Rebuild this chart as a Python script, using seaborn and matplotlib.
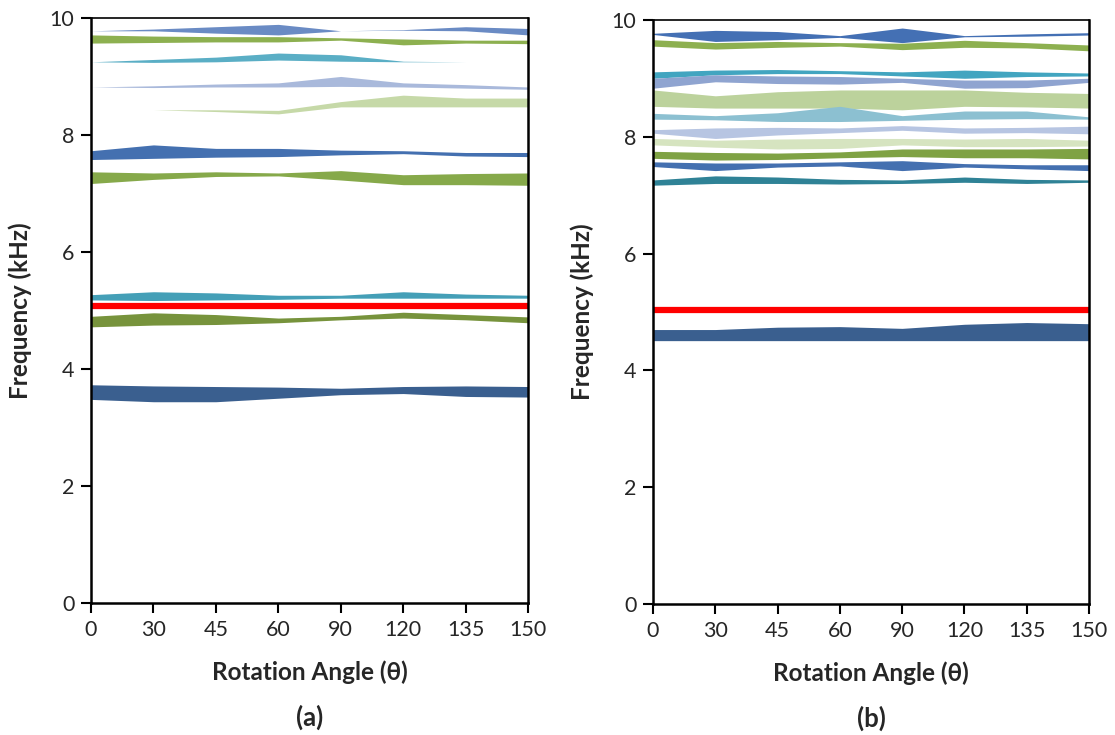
import numpy as np
import pandas as pd
import matplotlib
matplotlib.use("Agg")
import matplotlib.pyplot as plt
import seaborn as sns

angles = ["0", "30", "45", "60", "90", "120", "135", "150"]

# ---- panel (a): band lower / upper bounds (kHz) ----
a1_lo = [9.78, 9.78, 9.74, 9.71, 9.78, 9.79, 9.78, 9.71]
a1_hi = [9.78, 9.81, 9.85, 9.89, 9.78, 9.80, 9.85, 9.82]
a2_lo = [9.57, 9.58, 9.59, 9.59, 9.62, 9.54, 9.57, 9.56]
a2_hi = [9.71, 9.69, 9.68, 9.68, 9.66, 9.64, 9.62, 9.62]
a3_lo = [9.25, 9.24, 9.25, 9.28, 9.26, 9.25, 9.25, 9.25]
a3_hi = [9.25, 9.29, 9.33, 9.40, 9.37, 9.26, 9.25, 9.25]
a4_lo = [8.82, 8.81, 8.82, 8.82, 8.83, 8.82, 8.80, 8.78]
a4_hi = [8.82, 8.84, 8.87, 8.89, 9.00, 8.89, 8.86, 8.82]
a5_lo = [8.43, 8.43, 8.40, 8.36, 8.48, 8.48, 8.48, 8.48]
a5_hi = [8.43, 8.43, 8.43, 8.42, 8.57, 8.68, 8.63, 8.63]
a6_lo = [7.58, 7.60, 7.62, 7.63, 7.66, 7.68, 7.64, 7.63]
a6_hi = [7.73, 7.83, 7.77, 7.77, 7.74, 7.73, 7.70, 7.70]
a7_lo = [7.17, 7.24, 7.29, 7.30, 7.23, 7.15, 7.15, 7.14]
a7_hi = [7.37, 7.35, 7.37, 7.35, 7.39, 7.32, 7.34, 7.35]
a8_lo = [5.18, 5.17, 5.18, 5.19, 5.21, 5.21, 5.21, 5.21]
a8_hi = [5.27, 5.32, 5.30, 5.26, 5.26, 5.32, 5.28, 5.26]
a9_lo = [4.72, 4.75, 4.76, 4.79, 4.84, 4.87, 4.84, 4.79]
a9_hi = [4.90, 4.96, 4.93, 4.87, 4.90, 4.97, 4.93, 4.89]
a10_lo = [3.48, 3.44, 3.44, 3.50, 3.56, 3.58, 3.53, 3.52]
a10_hi = [3.73, 3.71, 3.70, 3.69, 3.67, 3.70, 3.71, 3.70]
a_red = [5.08, 5.08, 5.08, 5.08, 5.08, 5.08, 5.08, 5.08]

# ---- panel (b) ----
b1_lo = [9.75, 9.63, 9.66, 9.70, 9.61, 9.71, 9.72, 9.74]
b1_hi = [9.77, 9.82, 9.80, 9.73, 9.86, 9.73, 9.76, 9.78]
b2_lo = [9.55, 9.50, 9.53, 9.55, 9.49, 9.53, 9.52, 9.47]
b2_hi = [9.66, 9.61, 9.63, 9.61, 9.60, 9.65, 9.61, 9.57]
b3_lo = [9.00, 9.06, 9.08, 9.08, 9.04, 9.00, 9.03, 9.04]
b3_hi = [9.11, 9.14, 9.15, 9.13, 9.11, 9.14, 9.11, 9.09]
b4_lo = [8.83, 8.94, 8.91, 8.90, 8.93, 8.83, 8.84, 8.93]
b4_hi = [9.00, 9.06, 9.04, 9.03, 9.00, 8.97, 8.97, 9.00]
b5_lo = [8.52, 8.49, 8.49, 8.49, 8.46, 8.52, 8.51, 8.49]
b5_hi = [8.80, 8.70, 8.77, 8.80, 8.80, 8.80, 8.76, 8.74]
b6_lo = [8.30, 8.29, 8.26, 8.26, 8.28, 8.30, 8.31, 8.30]
b6_hi = [8.40, 8.36, 8.41, 8.52, 8.36, 8.44, 8.44, 8.34]
b7_lo = [8.06, 7.97, 8.03, 8.07, 8.11, 8.06, 8.07, 8.05]
b7_hi = [8.12, 8.15, 8.16, 8.15, 8.19, 8.15, 8.16, 8.18]
b8_lo = [7.86, 7.82, 7.79, 7.80, 7.86, 7.83, 7.83, 7.84]
b8_hi = [7.97, 7.94, 7.96, 7.97, 7.97, 7.96, 7.97, 7.94]
b9_lo = [7.63, 7.60, 7.61, 7.64, 7.66, 7.64, 7.64, 7.62]
b9_hi = [7.75, 7.73, 7.72, 7.74, 7.79, 7.79, 7.79, 7.80]
b10_lo = [7.49, 7.42, 7.48, 7.50, 7.42, 7.48, 7.45, 7.42]
b10_hi = [7.57, 7.55, 7.55, 7.57, 7.59, 7.54, 7.52, 7.52]
b11_lo = [7.17, 7.20, 7.20, 7.19, 7.20, 7.22, 7.20, 7.22]
b11_hi = [7.26, 7.33, 7.31, 7.27, 7.26, 7.31, 7.27, 7.26]
b12_lo = [4.51, 4.51, 4.51, 4.51, 4.51, 4.51, 4.51, 4.51]
b12_hi = [4.70, 4.70, 4.74, 4.75, 4.72, 4.79, 4.82, 4.80]
b_red = [5.03, 5.03, 5.03, 5.03, 5.03, 5.03, 5.03, 5.03]

yticks = [0, 2, 4, 6, 8, 10]

bands_a = [
    (a1_lo, a1_hi, "#6a8bc4"),
    (a2_lo, a2_hi, "#8db050"),
    (a3_lo, a3_hi, "#5aaec5"),
    (a4_lo, a4_hi, "#a9b9db"),
    (a5_lo, a5_hi, "#c6d9a8"),
    (a6_lo, a6_hi, "#4470b0"),
    (a7_lo, a7_hi, "#86a94a"),
    (a8_lo, a8_hi, "#449fb7"),
    (a9_lo, a9_hi, "#77933c"),
    (a10_lo, a10_hi, "#3a5f8f"),
]
bands_b = [
    (b1_lo, b1_hi, "#4470b4"),
    (b2_lo, b2_hi, "#8db050"),
    (b3_lo, b3_hi, "#42a5c0"),
    (b4_lo, b4_hi, "#8fa4d0"),
    (b5_lo, b5_hi, "#bcd29c"),
    (b6_lo, b6_hi, "#8cc0d1"),
    (b7_lo, b7_hi, "#b7c5e2"),
    (b8_lo, b8_hi, "#d6e4c0"),
    (b9_lo, b9_hi, "#7fa244"),
    (b10_lo, b10_hi, "#4470b0"),
    (b11_lo, b11_hi, "#2f8296"),
    (b12_lo, b12_hi, "#3a5f8f"),
]

sns.set_theme(style="white")
plt.rcParams["font.family"] = ["Lato", "DejaVu Sans"]

fig = plt.figure(figsize=(11.15, 7.35), dpi=100)
ax_a = fig.add_axes([0.0816, 0.1796, 0.392, 0.796])
ax_b = fig.add_axes([0.5857, 0.178, 0.391, 0.795])

xpos = np.arange(len(angles))

def draw(ax, bands, red, tag):
    for lo, hi, col in bands:
        ax.fill_between(xpos, lo, hi, color=col, linewidth=0)
    df = pd.DataFrame({"x": xpos, "y": red})
    sns.lineplot(data=df, x="x", y="y", ax=ax, color="#ff0000", linewidth=4.5)
    ax.set_xlim(0, len(angles) - 1)
    ax.set_ylim(0, 10)
    ax.set_xticks(xpos)
    ax.set_xticklabels(angles)
    ax.set_yticks(yticks)
    ax.set_yticklabels([str(t) for t in yticks])
    ax.tick_params(axis="both", which="major", direction="out", length=7,
                   width=1.5, color="black", labelsize=15.5, pad=5,
                   bottom=True, left=True)
    for side in ["left", "bottom", "right", "top"]:
        ax.spines[side].set_color("black")
        ax.spines[side].set_linewidth(1.8)
    ax.spines["top"].set_linewidth(1.2)
    ax.set_xlabel("Rotation Angle (θ)", fontsize=17.5, fontweight="bold", labelpad=15)
    ax.set_ylabel("Frequency (kHz)", fontsize=17.5, fontweight="bold", labelpad=13)
    ax.text(0.5, -0.195, tag, transform=ax.transAxes, ha="center", va="center",
            fontsize=18.5, fontweight="bold")

draw(ax_a, bands_a, a_red, "(a)")
draw(ax_b, bands_b, b_red, "(b)")

fig.savefig("out.png", dpi=100, facecolor="white")
